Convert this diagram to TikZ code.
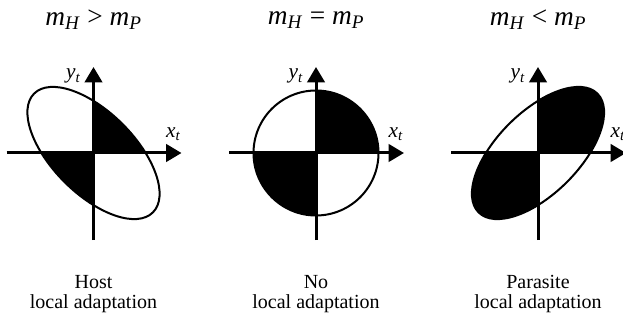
\documentclass[tikz,border=0pt]{standalone}
\usepackage{fontspec}
\setmainfont{Liberation Serif}
\usetikzlibrary{arrows.meta}
\newcommand{\mvar}[2]{\textit{#1}\textsubscript{\textit{#2}}}
\tikzset{
  % --- trait axes ---
  axis/.style={line width=2.25pt, -{Triangle[length=11.5pt,width=13pt]}},
  axlabel/.style={font=\rmfamily\fontsize{16}{18}\selectfont, inner sep=0pt},
  % --- covariance region ---
  regionline/.style={line width=1.5pt},
  % --- texts ---
  paneltitle/.style={font=\rmfamily\fontsize{20.5}{22}\selectfont, inner sep=0pt},
  panelcaption/.style={font=\rmfamily\fontsize{15}{15.5}\selectfont,
                       align=center, inner sep=0pt},
}

\begin{document}
\begin{tikzpicture}[x=0.75pt,y=0.75pt]
  \useasboundingbox (0,0) rectangle (623,321);
  \foreach \cx/\ang/\ra/\rb/\rel/\who [count=\i] in
      {93.5/-45/84/41/>/Host, 316/0/62.5/62.5/=/No, 538/45/84/41/</Parasite} {
    \begin{scope}[shift={(\cx,168)}]
      % filled quadrants I and III
      \begin{scope}
        \clip (0,0) rectangle (100,100) (0,0) rectangle (-100,-100);
        \fill[rotate=\ang] (0,0) ellipse [x radius=\ra, y radius=\rb];
      \end{scope}
      \draw[regionline, rotate=\ang] (0,0) ellipse [x radius=\ra, y radius=\rb];
      \coordinate (w\i) at (-87,0);
      \coordinate (e\i) at (88,0);
      \coordinate (s\i) at (0,-87);
      \coordinate (n\i) at (0,86);
      \draw[axis] (w\i) -- (e\i);
      \draw[axis] (s\i) -- (n\i);
      \node[axlabel] (xl\i) at (80,19) {\mvar{x}{t}};
      \node[axlabel] (yl\i) at (-20,77) {\mvar{y}{t}};
      \node[paneltitle] (ttl\i) at (0,133) {\mvar{m}{H}\ \rel\ \mvar{m}{P}};
      \node[panelcaption] (cap\i) at (0,-141) {\who\\local adaptation};
    \end{scope}
  }
\end{tikzpicture}
\end{document}
